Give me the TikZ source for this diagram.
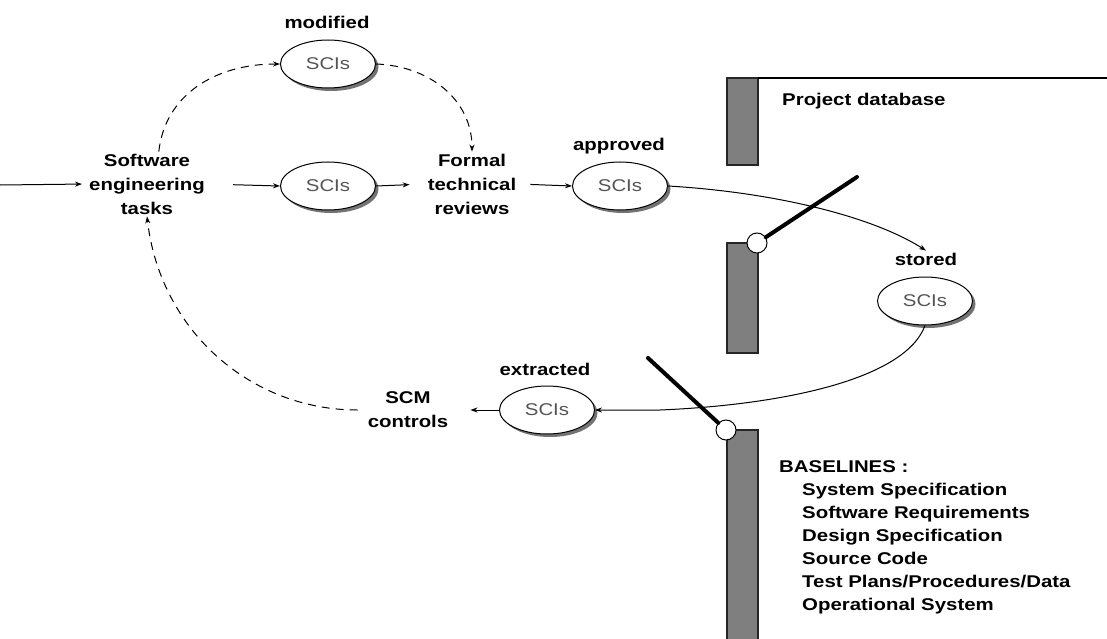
\documentclass[tikz,border=0pt]{standalone}
\usepackage{fontspec}
\newfontfamily\labfont[FakeStretch=1.2]{Liberation Sans}
\usetikzlibrary{arrows.meta,shapes.geometric,shadows}
\definecolor{bargray}{HTML}{7F7F7F}
\definecolor{scitext}{HTML}{555555}
\begin{document}
\begin{tikzpicture}[x=1pt,y=-1pt,
  lab/.style={font=\labfont\bfseries\fontsize{17}{24}\selectfont, align=center, inner sep=2pt},
  sci/.style={ellipse, draw, line width=1pt, fill=white, minimum width=95pt, minimum height=48pt,
    font=\labfont\fontsize{17}{20}\selectfont, text=scitext, inner sep=0pt,
    drop shadow={shadow xshift=3pt, shadow yshift=-3pt, fill=black!55, opacity=1}},
  flow/.style={-{Stealth[length=7pt,width=5pt]}, line width=1pt},
  dflow/.style={flow, dash pattern=on 8pt off 6pt},
  bar/.style={fill=bargray, draw=black!85, line width=1.2pt},
  gate/.style={line width=4pt, line cap=round},
  hinge/.style={circle, draw, fill=white, minimum size=20pt, inner sep=0pt, line width=1pt}]
\useasboundingbox (0,0) rectangle (1107,639);

% database walls
\draw[bar] (727,78) rectangle (758,165);
\draw[bar] (727,243) rectangle (758,353);
\draw[bar] (727,430) rectangle (758,645);
\draw[line width=1.5pt] (758,78) -- (1107,78);

% labels and items
\node[lab] (modlbl) at (327,22) {modified};
\node[sci] (sciTop) at (328,64) {SCIs};
\node[lab] (se) at (147,184) {Software\\engineering\\tasks};
\node[sci] (sciMid) at (328,186) {SCIs};
\node[lab] (ftr) at (472,184) {Formal\\technical\\reviews};
\node[lab] (applbl) at (619,146) {approved};
\node[sci] (sciApp) at (620,186) {SCIs};
\node[lab, anchor=west] (dblbl) at (780,101) {Project database};
\node[lab] (stolbl) at (926,259) {stored};
\node[sci] (sciSto) at (925,301) {SCIs};
\node[lab] (extlbl) at (545,369) {extracted};
\node[sci] (sciExt) at (547,410) {SCIs};
\node[lab] (scm) at (408,410) {SCM\\controls};
\node[lab, anchor=base west] (basel) at (777,472) {BASELINES :};
\foreach \t [count=\i] in {System Specification, Software Requirements, Design Specification,
  Source Code, Test Plans/Procedures/Data, Operational System}
  \node[lab, anchor=base west] (bl\i) at (800,472+23*\i) {\t};
\coordinate (inL) at (0,185);

% gates
\node[hinge] (h1) at (757,243) {};
\coordinate (g1) at (857,177);
\draw[gate] (h1) -- (g1);
\node[hinge] (h2) at (726,430) {};
\coordinate (g2) at (648,358);
\draw[gate] (h2) -- (g2);

% flows
\draw[flow, shorten >=5pt] (inL) -- (se.west);
\draw[flow, shorten <=26pt] (se.east) -- (sciMid.west);
\draw[flow, shorten >=16pt] (sciMid.east) -- (ftr.west);
\draw[flow, shorten <=12pt] (ftr.east) -- (sciApp.west);
\draw[flow] (sciApp.east) .. controls (770,192) and (870,215) .. (stolbl.north);
\draw[flow] (sciSto.south) .. controls (905,380) and (780,405) .. (660,410) -- (sciExt.east);
\draw[flow, shorten >=20pt] (sciExt.west) -- (scm.east);
\draw[dflow, shorten <=8pt] (scm.west) .. controls (250,410) and (160,330) .. (se.south);
\draw[dflow] (se.70) .. controls (165,95) and (215,64) .. (sciTop.west);
\draw[dflow] (sciTop.east) .. controls (430,66) and (472,100) .. (ftr.north);
\end{tikzpicture}
\end{document}
